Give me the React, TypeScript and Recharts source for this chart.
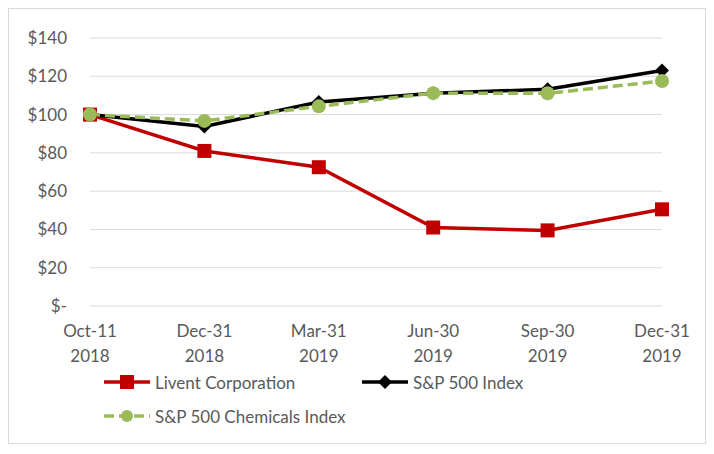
import React from 'react';
import { LineChart, Line, XAxis, YAxis, CartesianGrid, Legend } from 'recharts';

const periods = ['Oct-11|2018', 'Dec-31|2018', 'Mar-31|2019', 'Jun-30|2019', 'Sep-30|2019', 'Dec-31|2019'];
const livent = [100, 81, 72.5, 41, 39.5, 50.5];
const sp500 = [100, 93.8, 106.6, 111.2, 113.2, 123];
const chemicals = [100, 96.7, 104.3, 111.2, 111.1, 117.5];
const yTicks = [0, 20, 40, 60, 80, 100, 120, 140];

const data = periods.map((p, i) => ({
  period: p,
  livent: livent[i],
  sp500: sp500[i],
  chemicals: chemicals[i],
}));

const FONT = 'Lato, "Open Sans", sans-serif';
const TEXT = '#595959';

const SquareDot = (props: any) => {
  const { cx, cy } = props;
  if (cx == null || cy == null) return null;
  return <rect x={cx - 7} y={cy - 7} width={14} height={14} fill="#C00000" />;
};

const DiamondDot = (props: any) => {
  const { cx, cy } = props;
  if (cx == null || cy == null) return null;
  return <polygon points={`${cx},${cy - 7} ${cx + 7},${cy} ${cx},${cy + 7} ${cx - 7},${cy}`} fill="#000" />;
};

const CircleDot = (props: any) => {
  const { cx, cy } = props;
  if (cx == null || cy == null) return null;
  return <circle cx={cx} cy={cy} r={7} fill="#9BBB59" />;
};

const PeriodTick = (props: any) => {
  const { x, y, payload } = props;
  const [a, b] = String(payload.value).split('|');
  return (
    <text x={x} y={y} textAnchor="middle" fill={TEXT} fontSize={17} fontFamily={FONT}>
      <tspan x={x} dy={23}>{a}</tspan>
      <tspan x={x} dy={25}>{b}</tspan>
    </text>
  );
};

const legendItems = [
  { label: 'Livent Corporation', color: '#C00000', dash: undefined, marker: 'square', x: 93, y: 0 },
  { label: 'S&P 500 Index', color: '#000000', dash: undefined, marker: 'diamond', x: 351, y: 0 },
  { label: 'S&P 500 Chemicals Index', color: '#9BBB59', dash: '10 5', marker: 'circle', x: 93, y: 34 },
];

const ChartLegend = () => (
  <div style={{ position: 'relative', width: 600, height: 60, fontFamily: FONT, fontSize: 17, color: TEXT }}>
    {legendItems.map((it) => (
      <div key={it.label} style={{ position: 'absolute', left: it.x, top: it.y, display: 'flex', alignItems: 'center', height: 24 }}>
        <svg width={50} height={16} style={{ marginRight: 3 }}>
          <line x1={2} y1={8} x2={48} y2={8} stroke={it.color} strokeWidth={3.5} strokeDasharray={it.dash} />
          {it.marker === 'square' && <rect x={18} y={1} width={14} height={14} fill={it.color} />}
          {it.marker === 'diamond' && <polygon points="25,1 32,8 25,15 18,8" fill={it.color} />}
          {it.marker === 'circle' && <circle cx={25} cy={8} r={6} fill={it.color} />}
        </svg>
        <span style={{ whiteSpace: 'nowrap' }}>{it.label}</span>
      </div>
    ))}
  </div>
);

export default function App() {
  return (
    <div style={{ width: 696, height: 434, border: '1px solid #d9d9d9', background: '#fff' }}>
      <LineChart width={696} height={434} data={data} margin={{ top: 29, right: 43, left: 0, bottom: 13 }}>
        <CartesianGrid vertical={false} stroke="#d9d9d9" />
        <XAxis
          dataKey="period"
          axisLine={false}
          tickLine={false}
          interval={0}
          height={64}
          tick={<PeriodTick />}
        />
        <YAxis
          domain={[0, 140]}
          ticks={yTicks}
          width={81}
          axisLine={false}
          tickLine={false}
          tickSize={0}
          tickMargin={23}
          tick={{ fill: TEXT, fontSize: 17, fontFamily: FONT }}
          tickFormatter={(v: number) => (v === 0 ? '$-' : `$${v}`)}
        />
        <Legend verticalAlign="bottom" align="left" content={() => <ChartLegend />} wrapperStyle={{ height: 60 }} />
        <Line dataKey="livent" stroke="#C00000" strokeWidth={3.5} dot={<SquareDot />} isAnimationActive={false} />
        <Line dataKey="sp500" stroke="#000000" strokeWidth={3.5} dot={<DiamondDot />} isAnimationActive={false} />
        <Line dataKey="chemicals" stroke="#9BBB59" strokeWidth={3.5} strokeDasharray="10 5" dot={<CircleDot />} isAnimationActive={false} />
      </LineChart>
    </div>
  );
}
